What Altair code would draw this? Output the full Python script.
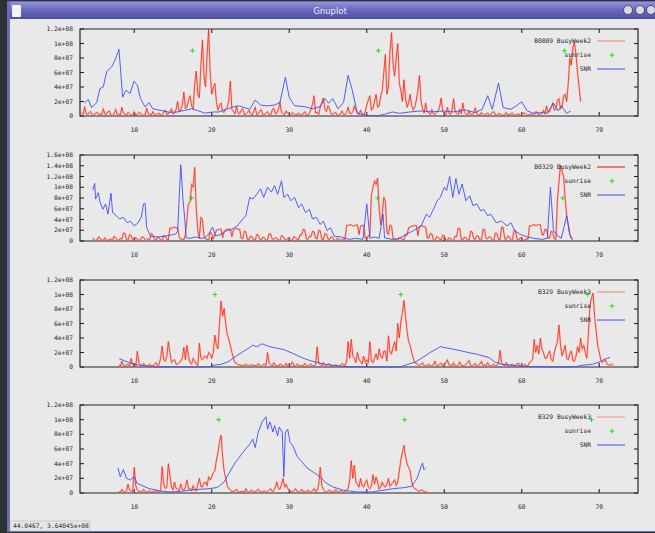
import altair as alt
import pandas as pd

# ---------------------------------------------------------------
# Traffic (BusyWeek) and SNR traces, values in units of 1e6.
# BusyWeek traces are sampled every BUSY_STEP hours from *_start.
# ---------------------------------------------------------------
BUSY_STEP = 0.2

# Panel 1 : B0809 BusyWeek2
p1_busy_start = 3.2
p1_busy = [
    4, 2, 13, 3, 2, 5, 6, 1, 1, 4, 5, 2, 3, 1, 10, 3, 2, 6, 7, 1,
    1, 3, 9, 2, 3, 1, 12, 4, 2, 1, 5, 3, 1, 2, 6, 1, 2, 5, 4, 1,
    1, 2, 11, 3, 3, 1, 6, 2, 1, 3, 4, 1, 2, 5, 8, 2, 3, 6, 10, 3,
    4, 9, 20, 6, 8, 15, 33, 10, 12, 22, 28, 14, 10, 45, 62, 30, 25, 70, 105, 55,
    40, 85, 120, 60, 30, 38, 45, 20, 8, 14, 18, 6, 5, 10, 12, 22, 48, 9, 6, 3,
    14, 4, 3, 8, 10, 2, 2, 5, 8, 3, 1, 6, 12, 2, 3, 7, 9, 1, 2, 4,
    6, 2, 1, 8, 11, 3, 4, 9, 20, 5, 3, 2, 7, 4, 2, 1, 5, 3, 1, 2,
    4, 1, 2, 3, 6, 2, 1, 4, 9, 16, 28, 4, 5, 2, 12, 18, 25, 9, 6, 14,
    10, 3, 2, 4, 5, 1, 1, 3, 7, 2, 2, 5, 12, 4, 3, 6, 14, 8, 4, 2,
    8, 3, 2, 6, 15, 22, 28, 8, 10, 20, 30, 12, 14, 28, 35, 60, 85, 30, 40, 90,
    115, 70, 55, 80, 100, 45, 35, 20, 50, 25, 12, 18, 30, 14, 8, 12, 22, 35, 56, 20,
    10, 4, 18, 6, 4, 2, 9, 3, 2, 5, 7, 12, 25, 6, 5, 2, 12, 4, 2, 8,
    24, 6, 4, 2, 9, 3, 18, 5, 3, 1, 7, 2, 1, 4, 11, 3, 2, 1, 5, 2,
    1, 3, 4, 1, 2, 5, 6, 2, 1, 3, 3, 1, 1, 2, 5, 1, 2, 3, 4, 1,
    1, 2, 3, 1, 1, 4, 4, 2, 1, 2, 3, 1, 2, 6, 5, 1, 2, 4, 8, 3,
    14, 5, 6, 12, 18, 8, 9, 22, 24, 10, 12, 28, 30, 20, 45, 80, 70, 95, 102, 85,
    60, 40, 20,
]
p1_snr_x = [
    3.56, 4.07, 4.5, 5.15, 5.58, 6.0, 6.44, 7.09, 7.52, 8.03,
    8.5, 8.94, 9.45, 9.97, 10.4, 10.8, 11.4, 11.9, 12.4, 12.9,
    13.75, 14.6, 15.5, 16.5, 17.4, 18.3, 19.1, 20.2,
    20.9, 21.9, 22.8, 23.5, 24.2, 24.9, 25.6, 26.3, 27.2, 28.1,
    28.8, 29.5, 30.0, 30.7, 31.9, 33.0, 34.0, 34.6, 35.1, 35.6,
    36.3, 37.0, 37.6, 38.1, 38.8, 40.0, 41.4, 42.3, 43.3, 44.2,
    45.6, 47.0, 48.4, 49.8, 51.2, 52.6, 54.0, 54.9, 55.6, 56.2,
    57.0, 57.6, 58.6, 59.3, 60.0, 60.7, 61.6, 62.5, 63.3, 64.1,
    64.7, 65.1, 65.8, 66.3,
]
p1_snr = [
    18, 22.6, 11.5, 18.5, 37.8, 40, 61, 68, 77, 92,
    26, 35.5, 31, 48, 42.5, 24, 12.5, 18.5, 10, 8.8,
    7, 5, 5.5, 7.8, 10, 7, 4, 5.5,
    5.6, 9.3, 12.6, 14, 11.6, 9.3, 22, 15, 14, 15,
    18.6, 53.5, 25.5, 14, 13, 10, 13, 24, 17.7, 24,
    10, 18.6, 56, 37, 3.7, 1, 0.3, 2.3, 5.6, 3.7,
    5.6, 7, 5.6, 7, 5.6, 8.4, 4.7, 9.3, 28, 9.3,
    45.6, 11.6, 9.3, 14, 19.5, 7, 3.7, 4.7, 3.7, 17.7,
    7, 14, 3.7, 7,
]
p1_sunrise_x = [17.5, 41.5, 65.5]
p1_sunrise = [90, 90, 90]

# Panel 2 : B0329 BusyWeek2
p2_busy_start = 4.6
p2_busy = [
    5, 3, 1, 2, 8, 4, 2, 1, 6, 2, 1, 3, 4, 1, 9, 6, 2, 1, 5, 3,
    15, 14, 3, 1, 12, 10, 2, 1, 6, 3, 1, 2, 8, 7, 2, 1, 5, 2, 14, 12,
    3, 1, 7, 6, 2, 1, 10, 9, 3, 2, 24, 23, 26, 25, 25, 24, 8, 3, 4, 2,
    12, 40, 70, 72, 105, 100, 137, 60, 20, 5, 44, 40, 10, 4, 3, 2, 16, 14, 4, 12,
    20, 21, 22, 22, 6, 18, 21, 22, 22, 21, 8, 20, 23, 23, 22, 22, 5, 4, 18, 17,
    3, 2, 9, 8, 2, 1, 12, 11, 3, 2, 7, 6, 1, 2, 14, 13, 4, 3, 6, 5,
    2, 1, 10, 9, 3, 2, 5, 4, 1, 2, 8, 7, 3, 2, 12, 11, 22, 21, 4, 3,
    9, 8, 18, 17, 5, 4, 20, 19, 3, 2, 14, 13, 4, 3, 8, 7, 2, 1, 5, 4,
    1, 2, 4, 3, 29, 29, 30, 30, 28, 28, 30, 30, 12, 28, 29, 29, 5, 4, 10, 9,
    85, 100, 112, 105, 117, 60, 30, 50, 81, 75, 15, 12, 30, 28, 4, 3, 2, 1, 6, 5,
    3, 2, 12, 11, 25, 25, 28, 28, 29, 29, 10, 26, 28, 28, 27, 26, 6, 5, 14, 13,
    2, 1, 8, 7, 3, 2, 11, 10, 2, 1, 6, 5, 1, 2, 9, 8, 24, 23, 3, 2,
    7, 6, 2, 1, 18, 17, 4, 3, 10, 9, 2, 1, 22, 21, 5, 4, 8, 7, 2, 1,
    15, 14, 3, 2, 26, 25, 4, 3, 9, 8, 2, 1, 20, 19, 3, 2, 6, 5, 1, 2,
    4, 3, 28, 28, 30, 30, 29, 29, 31, 30, 12, 11, 22, 21, 6, 5, 18, 17, 4, 3,
    75, 110, 141, 130, 120, 80, 47, 30, 12, 5, 3,
]
p2_snr_x = [
    4.65, 4.9, 5.0, 5.35, 5.6, 5.95, 6.3, 6.6, 7.0, 7.2,
    7.7, 8.1, 8.6, 9.1, 9.5, 10.0, 10.5, 10.9, 11.2, 11.4,
    11.6, 12.1, 13.0, 14.0, 14.7, 15.3, 15.6, 16.0, 16.3, 16.5,
    16.7, 17.2, 17.9, 18.6, 19.1, 19.6, 20.1, 20.5, 21.2, 21.9,
    22.6, 23.3, 24.0, 24.4, 24.9, 25.3, 25.8, 26.3, 26.7, 27.2,
    27.7, 28.1, 28.5, 29.0, 29.3, 29.8, 30.2, 30.7, 31.2, 31.6,
    32.1, 32.6, 33.0, 33.5, 34.0, 34.4, 34.9, 35.3, 35.8, 36.7,
    37.7, 38.6, 39.5, 40.0, 40.4, 41.0, 41.6, 42.1, 42.3, 43.3,
    44.2, 45.1, 46.0, 47.0, 47.7, 48.1, 48.6, 49.1, 49.5, 50.0,
    50.3, 50.7, 51.1, 51.5, 51.9, 52.3, 52.8, 53.3, 53.7, 54.2,
    54.7, 55.1, 55.6, 56.0, 56.7, 57.4, 58.1, 58.6, 59.1, 59.8,
    60.7, 61.6, 62.6, 63.3, 63.7, 64.1, 64.7, 65.1, 65.8, 66.2,
    66.5,
]
p2_snr = [
    95, 107, 78, 90, 72, 59, 69, 50, 89, 53,
    47, 41, 44, 34, 37, 28, 34, 44, 69, 70,
    25, 9, 7.5, 9, 11, 12.5, 19, 142, 75, 44,
    6, 5, 7.5, 5, 6, 12.5, 26, 9, 12.5, 19,
    22, 28, 41, 47, 81, 78, 87, 97, 81, 100,
    91, 103, 87, 112, 81, 87, 75, 81, 62, 69,
    53, 59, 41, 44, 31, 37, 19, 25, 9, 7.5,
    3, 5, 3, 69, 5, 7.5, 5, 50, 6, 3,
    5, 12.5, 19, 28, 50, 44, 59, 75, 81, 100,
    94, 120, 81, 116, 87, 106, 75, 84, 66, 69,
    56, 59, 47, 50, 34, 37, 28, 34, 19, 12.5,
    7.5, 5, 3, 5, 100, 19, 9, 5, 47, 12.5,
    3,
]
p2_sunrise_x = [17.4, 41.4, 65.3]
p2_sunrise = [80, 80, 80]

# Panel 3 : B329 BusyWeek3
p3_busy_start = 8.0
p3_busy = [
    3, 1, 8, 2, 1, 3, 4, 1, 12, 3, 2, 1, 22, 6, 3, 1, 5, 2, 1, 2,
    4, 1, 2, 3, 6, 2, 3, 12, 29, 10, 8, 15, 35, 20, 6, 9, 10, 4, 4, 6,
    8, 12, 27, 10, 30, 14, 6, 4, 12, 8, 4, 2, 33, 12, 10, 14, 15, 12, 20, 18,
    12, 20, 44, 30, 25, 60, 91, 70, 81, 60, 45, 38, 30, 20, 12, 6, 5, 3, 3, 2,
    2, 1, 4, 2, 1, 3, 3, 2, 2, 1, 5, 2, 1, 3, 4, 2, 20, 6, 3, 1,
    6, 2, 2, 1, 4, 3, 1, 2, 5, 1, 2, 3, 7, 2, 1, 4, 3, 1, 2, 1,
    5, 2, 1, 3, 4, 1, 2, 3, 28, 6, 3, 1, 6, 2, 1, 4, 4, 1, 2, 1,
    3, 2, 1, 2, 5, 3, 2, 8, 35, 12, 38, 15, 12, 6, 20, 10, 8, 4, 15, 6,
    10, 6, 35, 8, 6, 12, 18, 10, 25, 14, 12, 22, 22, 8, 43, 20, 18, 28, 35, 22,
    60, 40, 62, 75, 92, 70, 50, 35, 30, 20, 12, 6, 5, 3, 2, 4, 6, 2, 1, 3,
    4, 1, 2, 3, 8, 2, 1, 4, 5, 1, 2, 6, 10, 3, 3, 1, 6, 2, 1, 3,
    7, 2, 2, 1, 4, 6, 9, 2, 1, 3, 5, 1, 2, 4, 8, 2, 3, 1, 6, 2,
    1, 3, 4, 1, 2, 5, 23, 6, 3, 1, 6, 2, 1, 3, 4, 1, 2, 5, 5, 1,
    1, 2, 4, 1, 2, 6, 8, 10, 38, 20, 30, 18, 40, 25, 20, 12, 12, 18, 22, 10,
    8, 20, 28, 35, 58, 30, 15, 22, 30, 12, 10, 18, 22, 9, 8, 15, 28, 20, 40, 25,
    30, 20, 12, 45, 85, 95, 102, 70, 50, 30, 20, 10, 6, 8, 10, 4, 3, 2, 4, 2,
]
p3_snr_x = [
    8.05, 9.1, 10.0, 10.9, 11.9, 12.8, 14.5, 16.0, 18.0, 19.8,
    20.2, 21.2, 22.1, 23.0, 24.0, 24.9, 25.3, 25.8, 26.5, 27.2,
    27.9, 28.6, 29.3, 30.5, 31.6, 32.8, 34.2, 35.6, 36.7, 38.0,
    40.0, 42.0, 44.4, 45.3, 46.3, 47.2, 48.1, 49.1, 49.5, 50.2,
    50.7, 51.4, 52.3, 53.3, 54.2, 55.1, 55.8, 56.5, 57.4, 58.8,
    60.2, 62.0, 63.5, 67.0, 67.7, 69.1, 70.0, 70.9, 71.4,
]
p3_snr = [
    11.6, 7, 3.7, 2.3, 1, 0.3, 0.2, 0.3, 0, 0.5,
    2.3, 3.7, 7, 14, 21, 27, 30, 28, 32, 29,
    27, 25.6, 24, 18.6, 13, 8.4, 4.7, 2.3, 1, 0.4,
    0.3, 0, 0.2, 3.7, 7, 13, 19.5, 25.6, 28, 26.5,
    25.6, 24, 22, 19.5, 17.7, 14.9, 13, 7, 3.7, 2.3,
    1, 0.4, 0, 0.3, 2.3, 3.7, 7, 11.6, 13,
]
p3_sunrise_x = [20.4, 44.4, 68.5]
p3_sunrise = [100, 100, 100]

# Panel 4 : B329 BusyWeek3
p4_busy_start = 8.0
p4_busy = [
    2, 1, 5, 2, 1, 3, 12, 4, 3, 1, 35, 10, 4, 2, 2, 1, 5, 2, 1, 2,
    3, 1, 2, 1, 4, 2, 1, 3, 36, 12, 6, 8, 40, 25, 8, 4, 15, 6, 5, 3,
    12, 5, 4, 8, 18, 6, 6, 3, 10, 4, 3, 12, 20, 9, 8, 14, 15, 10, 22, 18,
    22, 28, 30, 45, 55, 70, 79, 50, 30, 20, 10, 6, 4, 2, 2, 3, 5, 2, 1, 2,
    2, 1, 6, 2, 1, 3, 4, 1, 2, 3, 5, 2, 1, 2, 3, 1, 2, 4, 6, 2,
    3, 8, 15, 6, 5, 12, 20, 8, 12, 6, 4, 2, 2, 3, 6, 2, 1, 2, 5, 2,
    2, 1, 4, 2, 1, 3, 6, 2, 3, 12, 35, 10, 5, 2, 1, 3, 4, 1, 2, 1,
    5, 2, 1, 3, 3, 1, 2, 4, 6, 18, 44, 20, 38, 15, 12, 8, 20, 10, 8, 14,
    18, 8, 6, 10, 25, 12, 22, 15, 5, 8, 15, 10, 8, 12, 20, 9, 12, 15, 18, 10,
    15, 30, 45, 55, 65, 50, 40, 35, 30, 15, 8, 6, 5, 3, 2, 4, 4, 2, 1, 2,
]
p4_snr_x = [
    7.9, 8.2, 8.6, 9.0, 9.5, 10.0, 10.4, 10.9, 11.9, 13.3,
    14.7, 16.0, 17.9, 19.3, 20.7, 21.6, 22.1, 23.0, 24.0, 24.9,
    25.3, 25.6, 26.0, 26.5, 27.0, 27.2, 27.5, 27.9, 28.1, 28.5,
    28.7, 29.1, 29.3, 29.5, 29.8, 30.1, 30.5, 31.0, 31.6, 32.3,
    33.3, 34.0, 34.7, 35.6, 37.0, 38.8, 40.7, 42.1, 43.5, 44.9,
    45.8, 46.5, 47.0, 47.2, 47.35, 47.6,
]
p4_snr = [
    34, 22, 32, 20, 17.7, 22, 13, 10.7, 6, 2.8,
    1.4, 2.3, 4.7, 5.6, 7.4, 15, 24.7, 41, 55, 66.5,
    73.5, 62, 83, 97, 104, 87, 97, 83, 92, 78,
    90, 83, 22, 83, 87, 69, 64, 50, 43, 34,
    27, 22, 14, 8.4, 3.7, 1.4, 1.4, 3.7, 6, 7.4,
    9.3, 20, 36, 41, 32, 34,
]
p4_sunrise_x = [20.9, 44.9, 69.0]
p4_sunrise = [100, 100, 100]

# Axis ticks
X_TICKS = [10, 20, 30, 40, 50, 60, 70]
Y_TICKS_120 = [0, 2e7, 4e7, 6e7, 8e7, 1e8, 1.2e8]
Y_LABELS_120 = ["0", "2e+07", "4e+07", "6e+07", "8e+07", "1e+08", "1.2e+08"]
Y_TICKS_160 = [0, 2e7, 4e7, 6e7, 8e7, 1e8, 1.2e8, 1.4e8, 1.6e8]
Y_LABELS_160 = ["0", "2e+07", "4e+07", "6e+07", "8e+07", "1e+08",
                "1.2e+08", "1.4e+08", "1.6e+08"]

# ---------------------------------------------------------------
# Layout (pixels of the window)
# ---------------------------------------------------------------
W, H = 655, 533
X_DOMAIN = [3, 75]
PLOT_LEFT, PLOT_RIGHT = 80, 638
TICK_PX = 4

FONT = "DejaVu Sans Mono"
FONT_SIZE = 6.3
INK = "#262626"
RED = "#ff2410"
PINK = "#ff8a7a"
BLUE = "#3d4ff5"
GREEN = "#22dd22"
PLUS = "M-1,0L1,0M0,-1L0,1"
ONE = pd.DataFrame({"k": [0]})


def panel(top, bottom, ymax, yticks, ylabels, busy_start, busy, snr_x, snr,
          sun_x, sun, legend_label, legend_red):
    xs = alt.Scale(domain=X_DOMAIN, range=[PLOT_LEFT, PLOT_RIGHT], nice=False, zero=False)
    ys = alt.Scale(domain=[0, ymax], range=[bottom, top], nice=False, zero=False)

    def X(f):
        return alt.X(f, type="quantitative", scale=xs, axis=None)

    def Y(f):
        return alt.Y(f, type="quantitative", scale=ys, axis=None)

    tick_dx = TICK_PX * (X_DOMAIN[1] - X_DOMAIN[0]) / (PLOT_RIGHT - PLOT_LEFT)
    tick_dy = TICK_PX * ymax / (bottom - top)

    frame = alt.Chart(pd.DataFrame({"x0": [X_DOMAIN[0]], "x1": [X_DOMAIN[1]],
                                    "y0": [0], "y1": [ymax]})).mark_rect(
        fillOpacity=0, stroke=INK, strokeWidth=1.2
    ).encode(x=X("x0"), x2="x1", y=Y("y0"), y2="y1")

    xt = pd.DataFrame({
        "x": X_TICKS * 2,
        "y0": [0] * len(X_TICKS) + [ymax - tick_dy] * len(X_TICKS),
        "y1": [tick_dy] * len(X_TICKS) + [ymax] * len(X_TICKS),
    })
    xticks = alt.Chart(xt).mark_rule(color=INK, strokeWidth=1.1).encode(
        x=X("x"), y=Y("y0"), y2="y1")

    yt = pd.DataFrame({
        "y": list(yticks) * 2,
        "x0": [X_DOMAIN[0]] * len(yticks) + [X_DOMAIN[1] - tick_dx] * len(yticks),
        "x1": [X_DOMAIN[0] + tick_dx] * len(yticks) + [X_DOMAIN[1]] * len(yticks),
    })
    yticks_m = alt.Chart(yt).mark_rule(color=INK, strokeWidth=1.1).encode(
        y=Y("y"), x=X("x0"), x2="x1")

    xl = pd.DataFrame({"x": X_TICKS, "y": [0] * len(X_TICKS),
                       "t": [str(v) for v in X_TICKS]})
    xlabels = alt.Chart(xl).mark_text(
        font=FONT, fontSize=FONT_SIZE, color=INK, dy=14, baseline="middle", align="center"
    ).encode(x=X("x"), y=Y("y"), text="t:N")

    yl = pd.DataFrame({"y": yticks, "x": [X_DOMAIN[0]] * len(yticks), "t": ylabels})
    ylabels_m = alt.Chart(yl).mark_text(
        font=FONT, fontSize=FONT_SIZE, color=INK, dx=-7, baseline="middle", align="right"
    ).encode(x=X("x"), y=Y("y"), text="t:N")

    bx = [busy_start + BUSY_STEP * i for i in range(len(busy))]
    busy_df = pd.DataFrame({"x": bx, "y": [v * 1e6 for v in busy]})
    # soft halo under the trace, then the trace itself
    busy_halo = alt.Chart(busy_df).mark_line(
        color=PINK, strokeWidth=2.0, opacity=0.35, strokeJoin="miter"
    ).encode(x=X("x"), y=Y("y"))
    busy_line = alt.Chart(busy_df).mark_line(
        color=RED, strokeWidth=0.8, strokeJoin="miter"
    ).encode(x=X("x"), y=Y("y"))

    sun_df = pd.DataFrame({"x": sun_x, "y": [v * 1e6 for v in sun]})
    sunrise = alt.Chart(sun_df).mark_point(
        shape=PLUS, filled=False, color=GREEN, size=22, strokeWidth=1, opacity=1
    ).encode(x=X("x"), y=Y("y"))

    snr_df = pd.DataFrame({"x": snr_x, "y": [v * 1e6 for v in snr]})
    snr_line = alt.Chart(snr_df).mark_line(color=BLUE, strokeWidth=0.9).encode(
        x=X("x"), y=Y("y"))

    # key, top-right inside the frame
    key_text_x = 591
    rows = [top + 12, top + 26, top + 40]
    key = []
    for label, yy in zip([legend_label, "sunrise", "SNR"], rows):
        key.append(alt.Chart(ONE).mark_text(
            text=label, font=FONT, fontSize=FONT_SIZE, color=INK,
            align="right", baseline="middle"
        ).encode(x=alt.value(key_text_x), y=alt.value(yy)))
    key.append(alt.Chart(ONE).mark_rule(color=legend_red, strokeWidth=1.3).encode(
        x=alt.value(597), x2=alt.value(625), y=alt.value(rows[0])))
    key.append(alt.Chart(ONE).mark_point(
        shape=PLUS, filled=False, color=GREEN, size=22, strokeWidth=1, opacity=1
    ).encode(x=alt.value(612), y=alt.value(rows[1])))
    key.append(alt.Chart(ONE).mark_rule(color=BLUE, strokeWidth=1).encode(
        x=alt.value(597), x2=alt.value(625), y=alt.value(rows[2])))

    return alt.layer(frame, xticks, yticks_m, xlabels, ylabels_m,
                     busy_halo, busy_line, sunrise, snr_line, *key)


def box(x0, x1, y0, y1, **mark):
    return alt.Chart(ONE).mark_rect(**mark).encode(
        x=alt.value(x0), x2=alt.value(x1), y=alt.value(y0), y2=alt.value(y1))


# ---------------------------------------------------------------
# Window chrome
# ---------------------------------------------------------------
title_grad = alt.LinearGradient(
    gradient="linear",
    stops=[alt.GradientStop(color="#9494d8", offset=0),
           alt.GradientStop(color="#6666bc", offset=0.5),
           alt.GradientStop(color="#5050a4", offset=1)],
    x1=0, x2=0, y1=0, y2=1)

chrome = [
    box(7, W, 1, H - 1, color="#6c6cb8"),                 # window border
    box(10, W, 2, 19, color=title_grad),                   # title bar
    box(10, W, 19, 531, color="#e9e9e9"),                 # client area
    box(12, 21, 5, 17, color="#f4f4f8", cornerRadius=1),   # window icon
    alt.Chart(ONE).mark_text(text="Gnuplot", font="DejaVu Sans", fontSize=8.5,
                             color="#ececf6", align="center", baseline="middle"
                             ).encode(x=alt.value(330), y=alt.value(11)),
    box(10, 90, 521, 531, color="#e6e6e6", stroke="#b0b0b0", strokeWidth=0.5),
    alt.Chart(ONE).mark_text(text="44.0467,  3.64045e+08", font=FONT,
                             fontSize=FONT_SIZE, color=INK, align="left",
                             baseline="middle").encode(x=alt.value(13), y=alt.value(526)),
]
for bx_ in [628, 640, 651]:
    chrome.append(alt.Chart(ONE).mark_point(
        shape="circle", filled=True, fill="#d8d8e6", stroke="#3a3a55",
        strokeWidth=0.8, size=80, opacity=1
    ).encode(x=alt.value(bx_), y=alt.value(10)))

panels = [
    panel(29, 116, 1.2e8, Y_TICKS_120, Y_LABELS_120, p1_busy_start, p1_busy,
          p1_snr_x, p1_snr, p1_sunrise_x, p1_sunrise, "B0809 BusyWeek2", "#f4958a"),
    panel(155, 241, 1.6e8, Y_TICKS_160, Y_LABELS_160, p2_busy_start, p2_busy,
          p2_snr_x, p2_snr, p2_sunrise_x, p2_sunrise, "B0329 BusyWeek2", "#ff3a28"),
    panel(280, 367, 1.2e8, Y_TICKS_120, Y_LABELS_120, p3_busy_start, p3_busy,
          p3_snr_x, p3_snr, p3_sunrise_x, p3_sunrise, "B329 BusyWeek3", "#f4958a"),
    panel(405, 493, 1.2e8, Y_TICKS_120, Y_LABELS_120, p4_busy_start, p4_busy,
          p4_snr_x, p4_snr, p4_sunrise_x, p4_sunrise, "B329 BusyWeek3", "#f4a59c"),
]

chart = alt.layer(*chrome, *panels).resolve_scale(
    x="independent", y="independent"
).properties(
    width=W, height=H, padding=0,
    autosize=alt.AutoSizeParams(type="none"),
    background="#2c3133",
).configure_view(strokeWidth=0)

chart.save("out.html", embed_options={"renderer": "svg", "actions": False})
